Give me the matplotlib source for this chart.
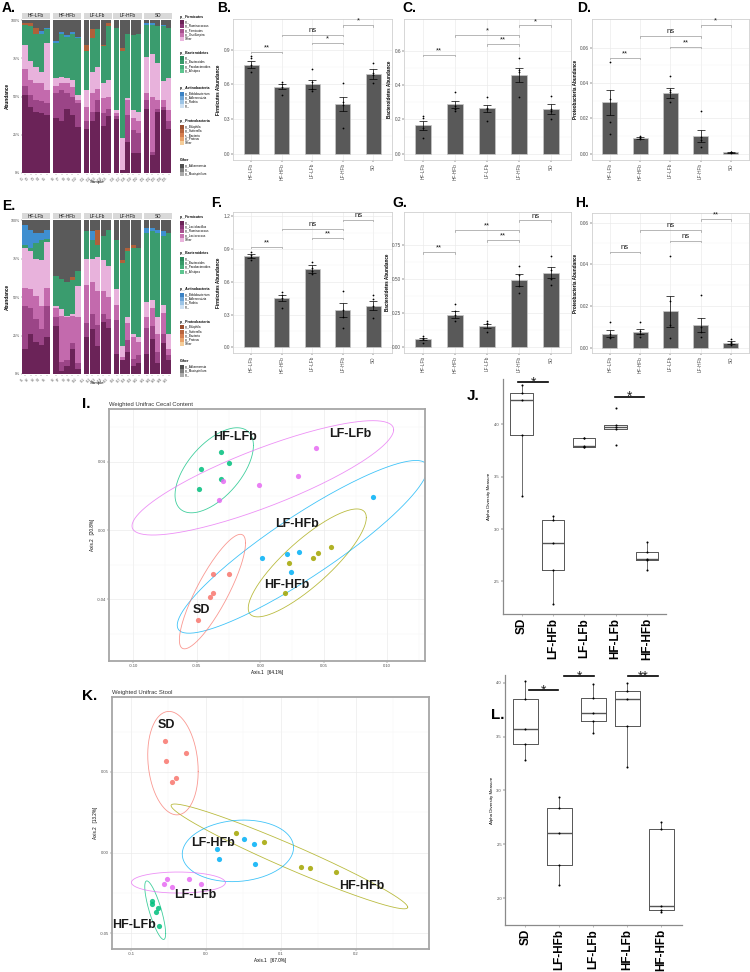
import numpy as np
import matplotlib.pyplot as plt

plt.rcParams['font.family'] = ['Liberation Sans', 'DejaVu Sans']

W, H = 750, 972
groups = ['HF-LFb', 'HF-HFb', 'LF-LFb', 'LF-HFb', 'SD']

# ---------- A / E : relative abundance, 5 mice per group (HF-LFb, HF-HFb, LF-LFb, LF-HFb, SD)
cecal_samples = ['C1', 'C2', 'C3', 'C4', 'C5', 'C6', 'C7', 'C8', 'C9', 'C10', 'C11', 'C12', 'C13',
                 'C14', 'C15', 'C16', 'C17', 'C18', 'C19', 'C20', 'C21', 'C22', 'C23', 'C24', 'C25']
stool_samples = ['S1', 'S2', 'S3', 'S4', 'S5', 'S6', 'S7', 'S8', 'S9', 'S10', 'S11', 'S12', 'S13',
                 'S14', 'S15', 'S16', 'S17', 'S18', 'S19', 'S20', 'S21', 'S22', 'S23', 'S24', 'S25']

cecal_f_dark = [.51, .43, .40, .39, .38, .36, .34, .42, .38, .30, .29, .34, .40, .31, .37,
                .35, .02, .20, .13, .13, .42, .12, .40, .41, .29]
cecal_f_mid = [.06, .08, .08, .08, .08, .16, .20, .10, .12, .16, .05, .06, .08, .08, .05,
               .02, .00, .18, .15, .13, .06, .02, .02, .02, .05]
cecal_f_pink = [.11, .10, .11, .12, .08, .05, .05, .07, .06, .02, .09, .12, .07, .10, .08,
                .02, .00, .10, .08, .08, .04, .36, .06, .05, .07]
cecal_f_light = [.16, .12, .10, .07, .31, .05, .04, .03, .05, .03, .11, .14, .14, .10, .11,
                 .02, .21, .01, .05, .06, .24, .28, .24, .12, .21]
cecal_bact = [.13, .23, .22, .25, .09, .23, .28, .27, .30, .37, .26, .22, .25, .24, .35,
              .54, .57, .42, .49, .51, .21, .19, .24, .36, .33]
cecal_actino = [0, 0, 0, .02, .01, .01, .01, .01, .01, .01, 0, 0, 0, 0, 0,
                0, 0, 0, 0, 0, .01, .01, 0, .01, 0]
cecal_proteo = [.01, .02, .04, 0, 0, 0, 0, 0, 0, 0, .04, .06, 0, .01, .02,
                0, .02, 0, 0, 0, 0, 0, 0, 0, 0]
cecal_other = [.02, .02, .05, .07, .05, .14, .08, .10, .08, .11, .16, .06, .06, .16, .02,
               .05, .18, .09, .10, .09, .02, .02, .04, .03, .05]

stool_f_dark = [.16, .26, .21, .19, .24, .31, .02, .05, .16, .03, .24, .29, .18, .34, .30,
                .13, .09, .14, .05, .07, .13, .23, .07, .20, .09]
stool_f_mid = [.28, .17, .15, .10, .20, .06, .06, .04, .04, .04, .09, .10, .14, .05, .06,
               .22, .00, .08, .05, .05, .17, .08, .07, .06, .03]
stool_f_pink = [.12, .12, .15, .15, .12, .06, .30, .28, .18, .30, .25, .21, .22, .15, .14,
                .10, .02, .11, .14, .09, .07, .12, .12, .14, .04]
stool_f_light = [.26, .25, .24, .30, .30, .01, .04, .01, .01, .20, .17, .15, .22, .20, .20,
                 .10, .07, .04, .02, .03, .10, .05, .11, .05, .10]
stool_bact = [.02, .02, .10, .13, .02, .20, .20, .22, .22, .10, .18, .12, .08, .16, .24,
              .32, .54, .43, .56, .58, .45, .45, .55, .45, .66]
stool_actino = [.13, .12, .07, .05, .06, 0, 0, 0, 0, 0, 0, .06, 0, 0, 0,
                0, 0, 0, 0, 0, .03, .02, .02, .03, 0]
stool_proteo = [0, 0, 0, 0, 0, 0, 0, 0, .02, 0, 0, 0, .10, 0, 0,
                0, .02, .02, .02, 0, 0, 0, 0, 0, 0]
stool_other = [.03, .06, .08, .08, .06, .36, .38, .40, .37, .33, .07, .07, .06, .10, .06,
               .13, .26, .18, .16, .18, .05, .05, .06, .07, .08]

seg_colors = ['#6b2358', '#9b4587', '#c36aad', '#e8b2dc', '#3a9c6e', '#3f8fd0', '#b0603a', '#5a5a5a']

legend_a = [
    ('p__Firmicutes', ['g__', 'g__Ruminococcus', 'g__Firmicutes', 'g__Oscillospira', 'Other'],
     ['#6b2358', '#8a3676', '#a8508f', '#c772b0', '#eab4dd']),
    ('p__Bacteroidetes', ['g__', 'g__Bacteroides', 'g__Parabacteroides', 'g__Alistipes'],
     ['#2b8a5d', '#379a69', '#46ad79', '#5dc58f']),
    ('p__Actinobacteria', ['g__Bifidobacterium', 'g__Adlercreutzia', 'g__Rothia', 'g__'],
     ['#3b82c4', '#6ca5d8', '#9cc4e6', '#cde0f2']),
    ('p__Proteobacteria', ['g__Bilophila', 'g__Sutterella', 's__Bacteria', 'g__Proteus', 'Other'],
     ['#9b4f2e', '#b8643d', '#d57e4f', '#e9a269', '#f4cd9a']),
    ('Other', ['g__Akkermansia', 'g__', 'g__Mucispirillum'], ['#4f4f4f', '#7c7c7c', '#ababab']),
]
legend_e = [
    ('p__Firmicutes', ['g__', 'g__Lactobacillus', 'g__Ruminococcus', 'g__Lactococcus', 'Other'],
     ['#6b2358', '#8a3676', '#a8508f', '#c772b0', '#eab4dd']),
    ('p__Bacteroidetes', ['g__', 'g__Bacteroides', 'g__Parabacteroides', 'g__Alistipes'],
     ['#2b8a5d', '#379a69', '#46ad79', '#5dc58f']),
    ('p__Actinobacteria', ['g__Bifidobacterium', 'g__Adlercreutzia', 'g__Rothia', 'g__'],
     ['#3b82c4', '#6ca5d8', '#9cc4e6', '#cde0f2']),
    ('p__Proteobacteria', ['g__Bilophila', 'g__Sutterella', 'g__Bacteria', 'g__Proteus', 'Other'],
     ['#9b4f2e', '#b8643d', '#d57e4f', '#e9a269', '#f4cd9a']),
    ('Other', ['g__Akkermansia', 'g__Mucispirillum', 'g__'], ['#4f4f4f', '#7c7c7c', '#ababab']),
]

# ---------- B-D (cecal) / F-H (stool) : phylum abundance, mean +- se and single mice
firm_cecal_mean = [0.77, 0.58, 0.60, 0.43, 0.69]
firm_cecal_se = [0.03, 0.025, 0.04, 0.06, 0.04]
firm_cecal_pts = [[0.845, 0.83, 0.77, 0.71], [0.62, 0.60, 0.58, 0.51], [0.73, 0.62, 0.56, 0.54],
                  [0.61, 0.45, 0.42, 0.22], [0.78, 0.70, 0.68, 0.61]]
firm_cecal_sig = [(0, 1, 0.883, '**'), (1, 3, 1.03, 'ns'), (2, 3, 0.96, '*'), (3, 4, 1.11, '*')]

bact_cecal_mean = [0.165, 0.289, 0.265, 0.459, 0.26]
bact_cecal_se = [0.025, 0.02, 0.02, 0.04, 0.03]
bact_cecal_pts = [[0.22, 0.21, 0.15, 0.09], [0.36, 0.28, 0.26, 0.25], [0.33, 0.27, 0.26, 0.19],
                  [0.56, 0.49, 0.48, 0.33], [0.34, 0.26, 0.25, 0.20]]
bact_cecal_sig = [(0, 1, 0.58, '**'), (1, 3, 0.695, '*'), (2, 3, 0.64, '**'), (3, 4, 0.75, '*')]

prot_cecal_mean = [0.029, 0.0087, 0.0345, 0.0101, 0.0008]
prot_cecal_se = [0.0072, 0.0006, 0.0028, 0.0035, 0.0002]
prot_cecal_pts = [[0.052, 0.031, 0.018, 0.011], [0.0102, 0.0095, 0.0088, 0.0082],
                  [0.044, 0.036, 0.035, 0.029], [0.024, 0.0095, 0.0075, 0.0035],
                  [0.0011, 0.0009, 0.0007, 0.0006]]
prot_cecal_sig = [(0, 1, 0.0543, '**'), (1, 3, 0.0666, 'ns'), (2, 3, 0.0606, '**'), (3, 4, 0.0728, '*')]

firm_stool_mean = [0.838, 0.45, 0.72, 0.342, 0.38]
firm_stool_se = [0.02, 0.03, 0.035, 0.06, 0.04]
firm_stool_pts = [[0.87, 0.85, 0.83, 0.80], [0.51, 0.48, 0.45, 0.36], [0.78, 0.73, 0.70, 0.67],
                  [0.52, 0.34, 0.28, 0.18], [0.48, 0.44, 0.38, 0.27]]
firm_stool_sig = [(0, 1, 0.923, '**'), (1, 3, 1.088, 'ns'), (2, 3, 1.005, '**'), (3, 4, 1.17, 'ns')]

bact_stool_mean = [0.06, 0.24, 0.157, 0.495, 0.549]
bact_stool_se = [0.01, 0.025, 0.015, 0.045, 0.04]
bact_stool_pts = [[0.08, 0.07, 0.06, 0.03], [0.32, 0.27, 0.24, 0.19], [0.19, 0.18, 0.17, 0.11],
                  [0.60, 0.53, 0.45, 0.40], [0.67, 0.57, 0.50, 0.46]]
bact_stool_sig = [(0, 1, 0.70, '**'), (1, 3, 0.862, '**'), (2, 3, 0.789, '**'), (3, 4, 0.936, 'ns')]

prot_stool_mean = [0.0068, 0.0078, 0.0175, 0.011, 0.0025]
prot_stool_se = [0.0015, 0.0012, 0.0075, 0.0035, 0.0008]
prot_stool_pts = [[0.0125, 0.0065, 0.005, 0.0045], [0.0122, 0.008, 0.0065, 0.005],
                  [0.0439, 0.0225, 0.011, 0.0045], [0.0255, 0.010, 0.0075, 0.005],
                  [0.004, 0.003, 0.0022, 0.0012]]
prot_stool_sig = [(0, 1, 0.046, 'ns'), (1, 3, 0.0565, 'ns'), (2, 3, 0.0513, 'ns'), (3, 4, 0.0616, '**')]

# ---------- I / K : weighted UniFrac PCoA
pcoa_colors = {'SD': '#F8766D', 'HF-HFb': '#A3A500', 'HF-LFb': '#00BF7D',
               'LF-HFb': '#00B0F6', 'LF-LFb': '#E76BF3'}
pcoa_order = ['HF-HFb', 'HF-LFb', 'LF-HFb', 'LF-LFb', 'SD']

cecal_sd_x = [-0.0376, -0.0248, -0.0376, -0.0394, -0.0492]
cecal_sd_y = [-0.0251, -0.0255, -0.0361, -0.0389, -0.0520]
cecal_lfhfb_x = [0.0013, 0.0210, 0.0305, 0.0244, 0.0886]
cecal_lfhfb_y = [-0.0160, -0.0139, -0.0127, -0.0243, 0.0193]
cecal_hfhfb_x = [0.0223, 0.0415, 0.0457, 0.0557, 0.0197]
cecal_hfhfb_y = [-0.0191, -0.0158, -0.0133, -0.0096, -0.0365]
cecal_hflfb_x = [-0.0311, -0.0250, -0.0465, -0.0310, -0.0480]
cecal_hflfb_y = [0.0456, 0.0394, 0.0356, 0.0300, 0.0243]
cecal_lflfb_x = [0.0436, 0.0297, -0.0011, -0.0329, -0.0295]
cecal_lflfb_y = [0.0480, 0.0319, 0.0265, 0.0177, 0.0288]
cecal_label_xy = {'HF-LFb': (-0.0202, 0.0546), 'LF-LFb': (0.0712, 0.0561), 'LF-HFb': (0.0286, 0.0038),
                  'HF-HFb': (0.0211, -0.0317), 'SD': (-0.0465, -0.0462)}

stool_sd_x = [-0.0547, -0.0271, -0.0530, -0.0396, -0.0458]
stool_sd_y = [0.0693, 0.0615, 0.0566, 0.0462, 0.0436]
stool_hfhfb_x = [0.0405, 0.0770, 0.1264, 0.1393, 0.1736]
stool_hfhfb_y = [0.0120, 0.0066, -0.0090, -0.0093, -0.0118]
stool_lfhfb_x = [0.0512, 0.0637, 0.0147, 0.0178, 0.0658]
stool_lfhfb_y = [0.0085, 0.0056, 0.0021, -0.0037, -0.0068]
stool_lflfb_x = [-0.0525, -0.0557, -0.0454, -0.0231, -0.0071]
stool_lflfb_y = [-0.0161, -0.0194, -0.0210, -0.0163, -0.0196]
stool_hflfb_x = [-0.0725, -0.0725, -0.0637, -0.0672, -0.0628]
stool_hflfb_y = [-0.0299, -0.0317, -0.0344, -0.0365, -0.0454]
stool_label_xy = {'SD': (-0.0525, 0.0792), 'LF-HFb': (0.0093, 0.0060), 'LF-LFb': (-0.0140, -0.0262),
                  'HF-HFb': (0.2083, -0.0209), 'HF-LFb': (-0.0961, -0.0447)}

# ---------- J / L : alpha diversity
alpha_groups = ['SD', 'LF-HFb', 'LF-LFb', 'HF-LFb', 'HF-HFb']
alpha_cecal = [[3.31, 3.90, 4.23, 4.30, 4.37], [2.29, 2.61, 2.87, 3.09, 3.12],
               [3.78, 3.78, 3.79, 3.865, 3.865], [3.80, 3.95, 3.97, 3.99, 4.15],
               [2.61, 2.70, 2.71, 2.78, 2.88]]
alpha_cecal_sig = [(0.9, 1.85, 4.40, '*'), (3.97, 4.91, 4.26, '*')]
alpha_stool = [[3.28, 3.43, 3.57, 3.85, 4.01], [2.12, 2.31, 2.61, 2.84, 2.94],
               [3.53, 3.64, 3.72, 3.855, 3.985], [3.22, 3.60, 3.85, 3.92, 4.00],
               [1.87, 1.89, 1.93, 2.64, 2.71]]
alpha_stool_sig = [(1.1, 1.95, 3.93, '*'), (2.15, 3.03, 4.06, '*'), (4.03, 4.91, 4.06, '**')]

# ellipse radius in sd units (robust t-fit in the original gives tighter ellipses than the raw F radius)
ELL_R = 3.0

fig = plt.figure(figsize=(7.5, 9.72), dpi=100)


def px_rect(x0, y0, x1, y1):
    return [x0 / W, 1 - y1 / H, (x1 - x0) / W, (y1 - y0) / H]


def panel_label(x, y, s, size=10):
    fig.text(x / W, 1 - y / H, s, fontsize=size, fontweight='bold', va='center', ha='left')


facet_x = [(22, 50), (53, 81), (83.5, 112), (113.5, 142), (143.5, 172)]


def composition(top, bottom, segs, samples, legend, leg_top):
    strip_h = 6
    for g in range(5):
        x0, x1 = facet_x[g]
        sax = fig.add_axes(px_rect(x0, top - strip_h, x1, top))
        sax.set_facecolor('#d9d9d9')
        sax.set_xticks([])
        sax.set_yticks([])
        for s in sax.spines.values():
            s.set_visible(False)
        sax.text(0.5, 0.5, groups[g], ha='center', va='center', fontsize=3.4,
                 color='#1a1a1a', transform=sax.transAxes)
        ax = fig.add_axes(px_rect(x0, top, x1, bottom))
        xs = np.arange(1, 6)
        base = np.zeros(5)
        for vals, col in zip(segs, seg_colors):
            v = np.array(vals[5 * g:5 * g + 5])
            ax.bar(xs, v, bottom=base, width=0.92, color=col, linewidth=0)
            base += v
        ax.set_xlim(0.45, 5.55)
        ax.set_ylim(-0.007, 1.009)
        for s in ax.spines.values():
            s.set_visible(False)
        ax.set_xticks(xs)
        ax.set_xticklabels(samples[5 * g:5 * g + 5], rotation=45, ha='right', fontsize=2.2, color='#4d4d4d')
        ax.tick_params(axis='both', length=1, width=0.3, pad=0.5, color='#4d4d4d')
        if g == 0:
            ax.set_yticks([0, 0.25, 0.5, 0.75, 1.0])
            ax.set_yticklabels(['0%', '25%', '50%', '75%', '100%'], fontsize=2.6, color='#4d4d4d')
        else:
            ax.set_yticks([])
    fig.text(97 / W, 1 - (bottom + 8) / H, 'Sample', fontsize=3.2, ha='center', va='center')
    fig.text(7 / W, 1 - ((top + bottom) / 2) / H, 'Abundance', fontsize=3.4, fontweight='bold',
             rotation=90, ha='center', va='center')
    # legend
    lax = fig.add_axes(px_rect(176, leg_top - 4, 215, leg_top + 172))
    lax.set_xlim(176, 215)
    lax.set_ylim(leg_top + 172, leg_top - 4)
    lax.axis('off')
    title_y = [0, 36, 71.6, 104.3, 143.6]
    for (title, names, cols), ty in zip(legend, title_y):
        y = leg_top + ty
        lax.text(180, y, title, fontsize=2.5, fontweight='bold', va='center', clip_on=True)
        for k, (nm, c) in enumerate(zip(names, cols)):
            yy = y + 5.6 + 4.2 * k
            lax.add_patch(plt.Rectangle((180, yy - 2), 4, 4, color=c, lw=0))
            lax.text(185.3, yy, nm, fontsize=2.1, va='center', clip_on=True)


composition(18.7, 174, [cecal_f_dark, cecal_f_mid, cecal_f_pink, cecal_f_light, cecal_bact,
                        cecal_actino, cecal_proteo, cecal_other], cecal_samples, legend_a, 16.7)
composition(219, 375, [stool_f_dark, stool_f_mid, stool_f_pink, stool_f_light, stool_bact,
                       stool_actino, stool_proteo, stool_other], stool_samples, legend_e, 217.5)


def bar_panel(rect, means, ses, pts, sig, yticks, ylim, ylabel):
    ax = fig.add_axes(px_rect(*rect))
    x = np.arange(1, 6)
    ax.set_axisbelow(True)
    ax.bar(x, means, width=0.5, color='#595959', edgecolor='#c8c8c8', linewidth=0.5, zorder=2)
    ax.errorbar(x, means, yerr=ses, fmt='none', ecolor='black', elinewidth=0.5,
                capsize=2.6, capthick=0.5, zorder=3)
    for xi, p in zip(x, pts):
        ax.scatter(np.full(len(p), xi), p, s=1.6, color='black', linewidths=0, zorder=4)
    tip = (ylim[1] - ylim[0]) * 0.012
    for i, j, yb, lab in sig:
        ax.plot([x[i], x[i], x[j], x[j]], [yb - tip, yb, yb, yb - tip], color='#9a9a9a', lw=0.5, zorder=3)
        ax.text((x[i] + x[j]) / 2, yb + tip * 0.3, lab, ha='center', va='bottom', fontsize=5.5,
                color='#1a1a1a')
    ax.set_xlim(0.4, 5.6)
    ax.set_ylim(*ylim)
    ax.set_yticks(yticks)
    ax.set_yticks([(a + b) / 2 for a, b in zip(yticks[:-1], yticks[1:])], minor=True)
    ax.set_xticks(x)
    ax.set_xticklabels(groups, rotation=90, fontsize=3.4, color='#4d4d4d')
    ax.tick_params(axis='y', labelsize=3.4, labelcolor='#4d4d4d', length=1.2, width=0.3, pad=1)
    ax.tick_params(axis='x', length=1.2, width=0.3, pad=1)
    ax.tick_params(which='minor', length=0)
    ax.grid(True, which='major', color='#ebebeb', lw=0.5)
    ax.grid(True, which='minor', axis='y', color='#f3f3f3', lw=0.3)
    for s in ax.spines.values():
        s.set_color('#d0d0d0')
        s.set_linewidth(0.6)
    ax.set_ylabel(ylabel, fontsize=3.3, fontweight='bold', labelpad=1.5)
    return ax


bar_panel((233, 19, 391.7, 160), firm_cecal_mean, firm_cecal_se, firm_cecal_pts, firm_cecal_sig,
          [0.0, 0.3, 0.6, 0.9], (-0.055, 1.165), 'Firmicutes Abundance').set_yticklabels(['0.0', '0.3', '0.6', '0.9'])
bar_panel((404, 19, 570.7, 160), bact_cecal_mean, bact_cecal_se, bact_cecal_pts, bact_cecal_sig,
          [0.0, 0.2, 0.4, 0.6], (-0.037, 0.788), 'Bacteroidetes Abundance').set_yticklabels(['0.0', '0.2', '0.4', '0.6'])
bar_panel((591.7, 19, 749, 160), prot_cecal_mean, prot_cecal_se, prot_cecal_pts, prot_cecal_sig,
          [0.0, 0.02, 0.04, 0.06], (-0.0036, 0.0762), 'Proteobacteria Abundance').set_yticklabels(['0.00', '0.02', '0.04', '0.06'])
bar_panel((233, 212, 391.7, 353), firm_stool_mean, firm_stool_se, firm_stool_pts, firm_stool_sig,
          [0.0, 0.3, 0.6, 0.9, 1.2], (-0.052, 1.24), 'Firmicutes Abundance').set_yticklabels(['0.0', '0.3', '0.6', '0.9', '1.2'])
bar_panel((404, 212, 570.7, 353), bact_stool_mean, bact_stool_se, bact_stool_pts, bact_stool_sig,
          [0.0, 0.25, 0.5, 0.75], (-0.042, 0.995), 'Bacteroidetes Abundance').set_yticklabels(['0.00', '0.25', '0.50', '0.75'])
bar_panel((591.7, 213, 749, 353), prot_stool_mean, prot_stool_se, prot_stool_pts, prot_stool_sig,
          [0.0, 0.02, 0.04, 0.06], (-0.0025, 0.0646), 'Proteobacteria Abundance').set_yticklabels(['0.00', '0.02', '0.04', '0.06'])


def pcoa_panel(rect, data, label_xy, xlim, ylim, xticks, xminor, yticks, yminor, xtl, ytl, title, xlab, ylab):
    ax = fig.add_axes(px_rect(*rect))
    ax.set_axisbelow(True)
    t = np.linspace(0, 2 * np.pi, 200)
    circle = np.column_stack([np.cos(t), np.sin(t)])
    for g in pcoa_order:
        xs, ys = data[g]
        pts = np.column_stack([xs, ys])
        center = pts.mean(axis=0)
        chol = np.linalg.cholesky(np.cov(pts.T)).T
        ell = center + ELL_R * circle @ chol
        ax.plot(ell[:, 0], ell[:, 1], color=pcoa_colors[g], lw=0.6, alpha=0.75)
    for g in pcoa_order:
        xs, ys = data[g]
        ax.scatter(xs, ys, s=14, color=pcoa_colors[g], alpha=0.85, linewidths=0, zorder=3)
    for g, (lx, ly) in label_xy.items():
        ax.text(lx, ly, g, fontsize=9, fontweight='bold', ha='center', va='center', color='#1a1a1a', zorder=4)
    ax.set_xlim(*xlim)
    ax.set_ylim(*ylim)
    ax.set_xticks(xticks)
    ax.set_xticklabels(xtl)
    ax.set_yticks(yticks)
    ax.set_yticklabels(ytl)
    ax.set_xticks(xminor, minor=True)
    ax.set_yticks(yminor, minor=True)
    ax.tick_params(labelsize=3, labelcolor='#4d4d4d', length=1.2, width=0.3, pad=1, color='#4d4d4d')
    ax.tick_params(which='minor', length=0)
    ax.grid(True, which='major', color='#ebebeb', lw=0.5)
    ax.grid(True, which='minor', color='#f4f4f4', lw=0.3)
    for s in ax.spines.values():
        s.set_color('#a6a6a6')
        s.set_linewidth(1.3)
    ax.set_title(title, fontsize=4.2, loc='left', pad=2.5, color='#333333')
    ax.set_xlabel(xlab, fontsize=3.3, labelpad=1.5)
    ax.set_ylabel(ylab, fontsize=3.3, labelpad=1.5)


cecal_pcoa = {'SD': (cecal_sd_x, cecal_sd_y), 'LF-HFb': (cecal_lfhfb_x, cecal_lfhfb_y),
              'HF-HFb': (cecal_hfhfb_x, cecal_hfhfb_y), 'HF-LFb': (cecal_hflfb_x, cecal_hflfb_y),
              'LF-LFb': (cecal_lflfb_x, cecal_lflfb_y)}
stool_pcoa = {'SD': (stool_sd_x, stool_sd_y), 'LF-HFb': (stool_lfhfb_x, stool_lfhfb_y),
              'HF-HFb': (stool_hfhfb_x, stool_hfhfb_y), 'HF-LFb': (stool_hflfb_x, stool_hflfb_y),
              'LF-LFb': (stool_lflfb_x, stool_lflfb_y)}

pcoa_panel((109, 409, 425, 660.7), cecal_pcoa, cecal_label_xy, (-0.1192, 0.1297), (-0.0757, 0.0706),
           [-0.10, -0.05, 0.0, 0.05, 0.10], [-0.075, -0.025, 0.025, 0.075, 0.125],
           [-0.04, 0.0, 0.04], [-0.06, -0.02, 0.02, 0.06],
           ['-0.10', '-0.05', '0.00', '0.05', '0.10'], ['-0.04', '0.00', '0.04'],
           'Weighted Unifrac Cecal Content', 'Axis.1   [64.1%]', 'Axis.2   [20.8%]')
pcoa_panel((112.3, 697.3, 428.7, 949.3), stool_pcoa, stool_label_xy, (-0.125, 0.2973), (-0.0598, 0.0962),
           [-0.1, 0.0, 0.1, 0.2], [-0.05, 0.05, 0.15, 0.25],
           [-0.05, 0.0, 0.05], [-0.025, 0.025, 0.075],
           ['-0.1', '0.0', '0.1', '0.2'], ['-0.05', '0.00', '0.05'],
           'Weighted Unifrac Stool', 'Axis.1   [67.0%]', 'Axis.2   [13.2%]')


def alpha_panel(rect, vals, sig, ylim, yticks):
    ax = fig.add_axes(px_rect(*rect))
    pos = np.arange(1, 6)
    ax.boxplot(vals, positions=pos, widths=0.72, whis=1.5, showfliers=False,
               boxprops=dict(color='#555555', lw=0.7), whiskerprops=dict(color='#555555', lw=0.6),
               capprops=dict(lw=0), medianprops=dict(color='#555555', lw=1.0))
    for p, v in zip(pos, vals):
        ax.scatter(np.full(len(v), p), v, s=2.2, color='black', linewidths=0, zorder=3)
    for x0, x1, yb, lab in sig:
        ax.plot([x0, x1], [yb, yb], color='black', lw=1.2)
        ax.annotate(lab, ((x0 + x1) / 2, yb), xytext=(0, -3.2), textcoords='offset points',
                    ha='center', va='baseline', fontsize=10, color='#222222')
    ax.set_xlim(0.4, 5.6)
    ax.set_ylim(*ylim)
    ax.set_yticks(yticks)
    ax.set_yticklabels(['%.1f' % v for v in yticks])
    ax.set_xticks(pos)
    ax.set_xticklabels(alpha_groups, rotation=90, fontsize=8.5, fontweight='bold')
    ax.tick_params(axis='y', labelsize=3, labelcolor='#4d4d4d', length=1.2, width=0.3, pad=1)
    ax.tick_params(axis='x', length=1.5, width=0.4, pad=1.5, color='#888888')
    for side in ['top', 'right']:
        ax.spines[side].set_visible(False)
    for side in ['left', 'bottom']:
        ax.spines[side].set_color('#8a8a8a')
        ax.spines[side].set_linewidth(0.9)
    ax.set_ylabel('Alpha Diversity Measure', fontsize=3.2, labelpad=2)


alpha_panel((502.7, 379, 665.7, 614), alpha_cecal, alpha_cecal_sig, (2.19, 4.43), [2.5, 3.0, 3.5, 4.0])
alpha_panel((505, 675, 681.7, 925), alpha_stool, alpha_stool_sig, (1.753, 4.07), [2.0, 2.5, 3.0, 3.5, 4.0])

panel_label(2, 8, 'A.')
panel_label(217, 8, 'B.')
panel_label(402, 8, 'C.')
panel_label(577, 8, 'D.')
panel_label(2, 206, 'E.')
panel_label(211, 203, 'F.')
panel_label(392, 203, 'G.')
panel_label(575, 203, 'H.')
panel_label(82, 404, 'I.', 11)
panel_label(467, 396, 'J.', 11)
panel_label(82, 696, 'K.', 11)
panel_label(491, 715, 'L.', 11)

fig.savefig('out.png', dpi=100)
